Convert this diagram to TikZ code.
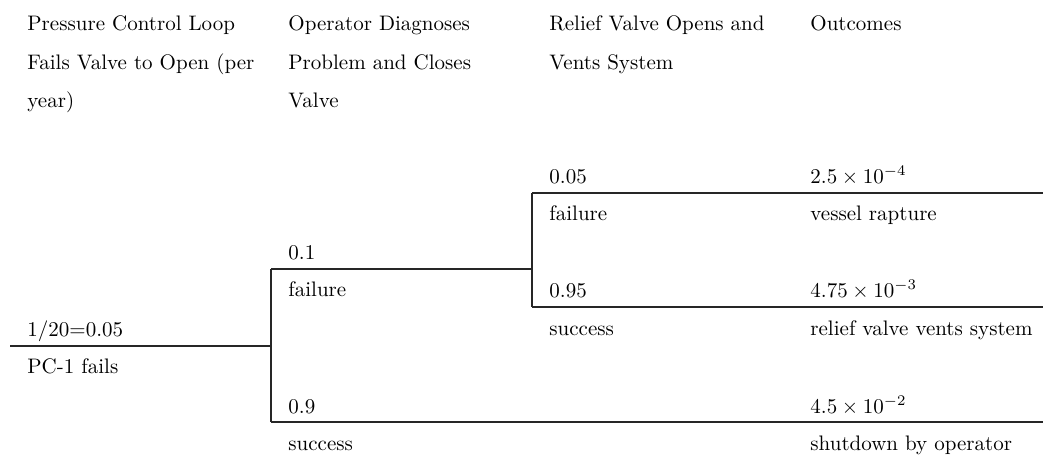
\documentclass[tikz,border=0pt]{standalone}
\usepackage{fontspec}
\begin{document}
\begin{tikzpicture}[x=0.476pt,y=-0.476pt,
  lbl/.style={anchor=base west,inner sep=0pt,font=\normalsize},
  branch/.style={line width=0.6pt,draw=black!85}]
\useasboundingbox (0,0) rectangle (1043,454);

% column headings
\node[lbl] (h1a) at (27,30) {Pressure Control Loop};
\node[lbl] (h1b) at (27,69) {Fails Valve to Open (per};
\node[lbl] (h1c) at (27,107.5) {year)};
\node[lbl] (h2a) at (288,30) {Operator Diagnoses};
\node[lbl] (h2b) at (288,69) {Problem and Closes};
\node[lbl] (h2c) at (288,107.5) {Valve};
\node[lbl] (h3a) at (549,30) {Relief Valve Opens and};
\node[lbl] (h3b) at (549,69) {Vents System};
\node[lbl] (h4a) at (810,30) {Outcomes};

% tree junctions
\coordinate (start) at (10,346);
\coordinate (j1) at (271,346);
\coordinate (j1up) at (271,269);
\coordinate (j1dn) at (271,422);
\coordinate (j2) at (532,269);
\coordinate (j2up) at (532,193);
\coordinate (j2dn) at (532,307);
\coordinate (e1) at (1043,193);
\coordinate (e2) at (1043,307);
\coordinate (e3) at (1043,422);

% branches
\draw[branch] (start) -- (j1);
\draw[branch] (j1up) -- (j1dn);
\draw[branch] (j1up) -- (j2);
\draw[branch] (j1dn) -- (e3);
\draw[branch] (j2up) -- (j2dn);
\draw[branch] (j2up) -- (e1);
\draw[branch] (j2dn) -- (e2);

% initiating event
\node[lbl] (p0) at (27,336) {$1/20$=0.05};
\node[lbl] (t0) at (27,373) {PC-1 fails};

% operator branch
\node[lbl] (p1f) at (288,259) {0.1};
\node[lbl] (t1f) at (288,296.5) {failure};
\node[lbl] (p1s) at (288,413) {0.9};
\node[lbl] (t1s) at (288,450) {success};

% relief valve branch
\node[lbl] (p2f) at (549,183.5) {0.05};
\node[lbl] (t2f) at (549,220.5) {failure};
\node[lbl] (p2s) at (549,297.5) {0.95};
\node[lbl] (t2s) at (549,335) {success};

% outcomes
\node[lbl] (o1) at (810,183.5) {$2.5\times10^{-4}$};
\node[lbl] (o1t) at (810,220.5) {vessel rapture};
\node[lbl] (o2) at (810,297.5) {$4.75\times10^{-3}$};
\node[lbl] (o2t) at (810,335) {relief valve vents system};
\node[lbl] (o3) at (810,413) {$4.5\times10^{-2}$};
\node[lbl] (o3t) at (810,450) {shutdown by operator};
\end{tikzpicture}
\end{document}
